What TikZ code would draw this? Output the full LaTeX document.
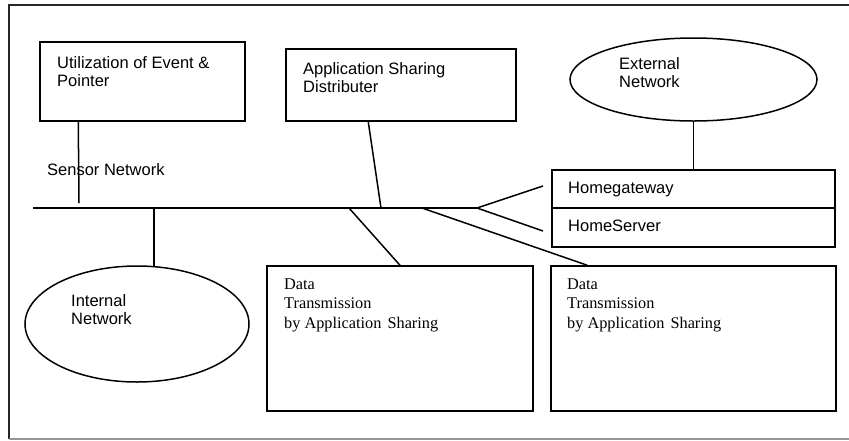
\documentclass[tikz,border=0pt]{standalone}
\usepackage{fontspec}
\setmainfont{Liberation Serif}
\setsansfont{Liberation Sans}
\usetikzlibrary{shapes.geometric,calc}
\definecolor{framegray}{RGB}{150,150,150}
\tikzset{
  ln/.style={line width=1.5pt, black},
  boxnode/.style={draw, ln, rectangle, inner sep=0pt},
  ellnode/.style={draw, ln, ellipse, inner sep=0pt},
  sanslabel/.style={anchor=north west, inner sep=0pt, align=left, font=\sffamily\fontsize{16.5}{18}\selectfont},
  seriflabel/.style={anchor=north west, inner sep=0pt, align=left, font=\rmfamily\fontsize{16.3}{19.5}\selectfont},
}
\begin{document}
\begin{tikzpicture}[x=1pt,y=-1pt]
\useasboundingbox (0,0) rectangle (849,440);
% frame
\draw[line width=1.8pt, black!85] (849,5) -- (9,5) -- (9,439);
\draw[line width=1.6pt, framegray] (9,439) -- (849,439);

% boxes
\node[boxnode, minimum width=205pt, minimum height=79pt] (box1) at (142.5,81.5) {};
\node[boxnode, minimum width=230pt, minimum height=72pt] (box2) at (401,85) {};
\node[ellnode, minimum width=247pt, minimum height=83pt] (ext) at (693.5,79.5) {};
\node[boxnode, minimum width=283pt, minimum height=38pt] (hg) at (693.5,189) {};
\node[boxnode, minimum width=283pt, minimum height=39pt] (hs) at (693.5,227.5) {};
\node[ellnode, minimum width=224pt, minimum height=116pt] (int) at (137,324) {};
\node[boxnode, minimum width=266pt, minimum height=145pt] (d1) at (400,338.5) {};
\node[boxnode, minimum width=285pt, minimum height=145pt] (d2) at (693.5,338.5) {};

% labels
\node[sanslabel] (t1) at (57,56) {Utilization of Event \&\\Pointer};
\node[sanslabel] (t2) at (303,62.5) {Application Sharing\\Distributer};
\node[sanslabel] (t3) at (619,57) {External\\Network};
\node[sanslabel] (t4) at (568,182) {Homegateway};
\node[sanslabel] (t5) at (568,220) {HomeServer};
\node[sanslabel] (t6) at (47,163) {Sensor Network};
\node[sanslabel] (t7) at (71,294) {Internal\\Network};
\node[seriflabel] (t8) at (284,278.5) {Data\\Transmission\\by Application\hspace{6pt}Sharing};
\node[seriflabel] (t9) at (567,278.5) {Data\\Transmission\\by Application\hspace{6pt}Sharing};

% bus coordinates
\coordinate (busL) at (33,208);
\coordinate (busR) at (477,208);
\coordinate (s1) at (79,203);
\coordinate (b2) at (381,208);
\coordinate (bi) at (154,208);
\coordinate (bd1) at (349,208);
\coordinate (bd2) at (422,208);
\coordinate (fk1) at (543,186);
\coordinate (fk2) at (543,231);

% connectors
\draw[ln] (busL) -- (busR);
\draw[ln] (busR) -- (fk1);
\draw[ln] (busR) -- (fk2);
\draw[ln] ($(box1.south west)+(39,0)$) -- (s1);
\draw[ln] ($(box2.south west)+(83,0)$) -- (b2);
\draw[ln] (ext.south) -- (hg.north);
\draw[ln] (bi) -- ($(bi)+(0,58.5)$);
\draw[ln] (bd1) -- (d1.north);
\draw[ln] (bd2) -- ($(d2.north west)+(37,0)$);
\end{tikzpicture}
\end{document}
